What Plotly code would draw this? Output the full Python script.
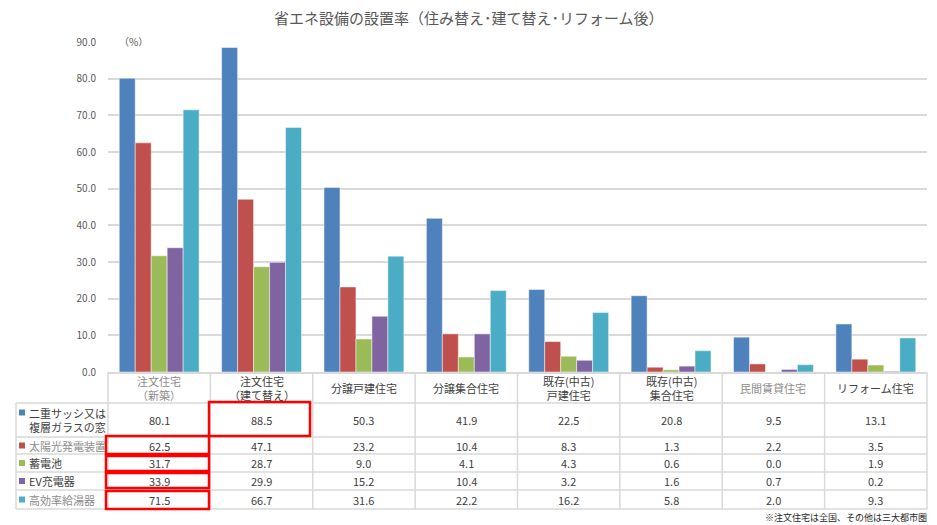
import plotly.graph_objects as go

W, H = 937, 525

categories = ["注文住宅<br>（新築）", "注文住宅<br>（建て替え）", "分譲戸建住宅", "分譲集合住宅",
              "既存(中古)<br>戸建住宅", "既存(中古)<br>集合住宅", "民間賃貸住宅", "リフォーム住宅"]
header_gray = [True, False, False, False, False, False, True, False]

series_names = ["二重サッシ又は<br>複層ガラスの窓", "太陽光発電装置", "蓄電池", "EV充電器", "高効率給湯器"]
series_gray = [False, True, False, False, True]
series_colors = ["#4F81BD", "#C0504D", "#9BBB59", "#8064A2", "#4BACC6"]

double_sash = [80.1, 88.5, 50.3, 41.9, 22.5, 20.8, 9.5, 13.1]
solar = [62.5, 47.1, 23.2, 10.4, 8.3, 1.3, 2.2, 3.5]
battery = [31.7, 28.7, 9.0, 4.1, 4.3, 0.6, 0.0, 1.9]
ev_charger = [33.9, 29.9, 15.2, 10.4, 3.2, 1.6, 0.7, 0.2]
water_heater = [71.5, 66.7, 31.6, 22.2, 16.2, 5.8, 2.0, 9.3]
series_values = [double_sash, solar, battery, ev_charger, water_heater]

title_text = "省エネ設備の設置率（住み替え･建て替え･リフォーム後）"
unit_text = "（%）"
footnote = "※注文住宅は全国、その他は三大都市圏"

FONT = "Noto Sans CJK JP"
DARK = "#404040"
GRAY = "#8C8C8C"
GRID = "#D9D9D9"


def X(px):
    return px / W


def Y(py):
    return 1 - py / H


fig = go.Figure()
for name, vals, col in zip(series_names, series_values, series_colors):
    fig.add_trace(go.Bar(x=categories, y=vals, name=name.replace("<br>", ""),
                         marker=dict(color=col, line=dict(color="rgba(255,255,255,0.6)", width=0.8))))

plot_left, plot_right = 108, 927
y_axis_bottom, y_axis_top = 372, 42

annotations = []
shapes = []


def note(x, y, text, size, color, xanchor="center", xref="paper", align="center"):
    annotations.append(dict(x=x, y=y, xref=xref, yref="paper", text=text, showarrow=False,
                            xanchor=xanchor, yanchor="middle", align=align,
                            font=dict(size=size, color=color, family=FONT)))


note(X(469), Y(17), title_text, 15, "#595959")
note(X(117), Y(41), unit_text, 10, "#595959", xanchor="left")
note(X(929), Y(517), footnote, 9, "#262626", xanchor="right")

col_w = (plot_right - plot_left) / len(categories)
header_top, header_bot = 372, 403
row_edges = [403, 437, 454, 472, 490, 509]
label_left = 16

for j, cat in enumerate(categories):
    note(cat, Y((header_top + header_bot) / 2), cat, 11, GRAY if header_gray[j] else DARK, xref="x")

for i, (name, vals) in enumerate(zip(series_names, series_values)):
    top, bot = row_edges[i], row_edges[i + 1]
    yc = (top + bot) / 2
    note(X(27), Y(yc), name, 11, GRAY if series_gray[i] else DARK, xanchor="left", align="left")
    sq_y = yc if i > 0 else top + 9.5
    shapes.append(dict(type="rect", xref="paper", yref="paper", x0=X(19), x1=X(25),
                       y0=Y(sq_y + 3), y1=Y(sq_y - 3), fillcolor=series_colors[i], line=dict(width=0)))
    for j, v in enumerate(vals):
        note(categories[j], Y(yc), f"{v:.1f}", 11, DARK, xref="x")

line = dict(color=GRID, width=1.5)
for k in range(len(categories) + 1):
    xp = plot_left + k * col_w
    shapes.append(dict(type="line", xref="paper", yref="paper", x0=X(xp), x1=X(xp),
                       y0=Y(header_top), y1=Y(row_edges[-1]), line=line))
shapes.append(dict(type="line", xref="paper", yref="paper", x0=X(label_left), x1=X(label_left),
                   y0=Y(row_edges[0]), y1=Y(row_edges[-1]), line=line))
for r in row_edges:
    shapes.append(dict(type="line", xref="paper", yref="paper", x0=X(label_left), x1=X(plot_right),
                       y0=Y(r), y1=Y(r), line=line))

red = dict(color="#FF0000", width=2.5)
boxes = [(209, 310, 402, 436), (106, 209, 436, 454), (106, 209, 456, 471),
         (106, 209, 473, 488), (106, 209, 491, 509)]
for x0, x1, y0, y1 in boxes:
    shapes.append(dict(type="rect", xref="paper", yref="paper", x0=X(x0), x1=X(x1),
                       y0=Y(y1), y1=Y(y0), line=red, fillcolor="rgba(0,0,0,0)"))

fig.update_layout(
    width=W, height=H,
    margin=dict(l=0, r=0, t=0, b=0, autoexpand=False),
    paper_bgcolor="white", plot_bgcolor="white",
    barmode="group", bargap=0.22, bargroupgap=0,
    showlegend=False,
    font=dict(family=FONT, color=DARK),
    xaxis=dict(domain=[X(plot_left), X(plot_right)], type="category", range=[-0.5, 7.5],
               showticklabels=False, showline=True, linecolor=GRID, linewidth=1.5,
               showgrid=False, zeroline=False, fixedrange=True, automargin=False),
    yaxis=dict(domain=[Y(y_axis_bottom), Y(y_axis_top)], range=[0, 90], dtick=10,
               tickformat=".1f", showgrid=True, gridcolor=GRID, gridwidth=1.5,
               zeroline=False, showline=False, ticks="outside", ticklen=9,
               tickcolor="rgba(0,0,0,0)", automargin=False,
               tickfont=dict(size=10, color="#595959", family=FONT)),
    annotations=annotations,
    shapes=shapes,
)

fig.write_html("out.html", config={"displayModeBar": False},
               post_script="document.body.style.margin='0';document.body.style.overflow='hidden';")
